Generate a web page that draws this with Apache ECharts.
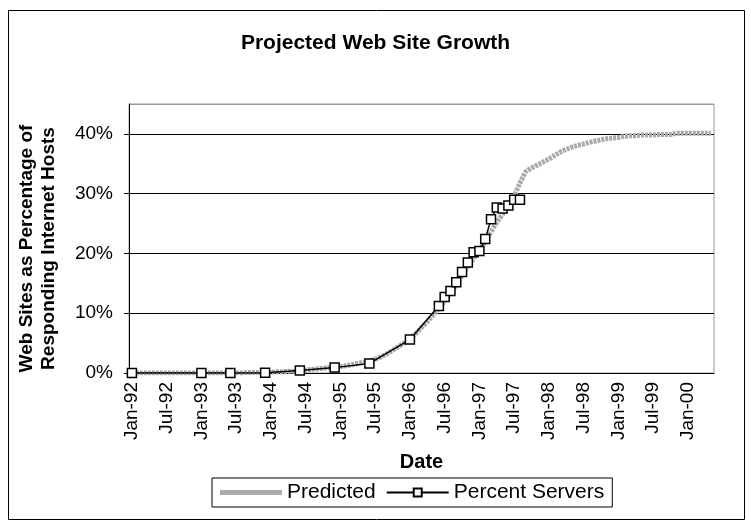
<!DOCTYPE html>
<html>
<head>
<meta charset="utf-8">
<script src="https://cdn.jsdelivr.net/npm/echarts@6/dist/echarts.min.js"></script>
<style>
html, body { margin: 0; padding: 0; background: #fff; }
#chart { width: 751px; height: 526px; }
</style>
</head>
<body>
<div id="chart"></div>
<script>
// month slots on the date axis, Jan-92 .. May-00
var monthNames = ['Jan','Feb','Mar','Apr','May','Jun','Jul','Aug','Sep','Oct','Nov','Dec'];
var years = ['92','93','94','95','96','97','98','99','00'];
var lastMonthOfLastYear = 5;

// predicted share (%), one value per month
var predicted = [
	0.0, 0.0, 0.0, 0.0, 0.0, 0.0, 0.0, 0.0, 0.0, 0.0, 0.0, 0.0,
	0.0, 0.0, 0.0, 0.0, 0.0, 0.0, 0.0, 0.0, 0.1, 0.1, 0.1, 0.1,
	0.1, 0.2, 0.2, 0.3, 0.3, 0.4, 0.5, 0.6, 0.7, 0.8, 0.9, 1.0,
	1.1, 1.2, 1.4, 1.6, 1.8, 2.0, 2.3, 2.7, 3.2, 3.8, 4.4, 5.0,
	5.7, 6.6, 7.6, 8.6, 9.7, 10.8, 12.0, 13.3, 14.8, 16.3, 17.8, 19.2,
	20.6, 22.0, 23.6, 25.2, 26.6, 28.0, 29.6, 31.8, 33.7, 34.3, 34.8, 35.3,
	35.8, 36.4, 37.0, 37.4, 37.8, 38.1, 38.3, 38.6, 38.8, 39.0, 39.2, 39.3,
	39.4, 39.6, 39.7, 39.7, 39.8, 39.8, 39.8, 39.9, 39.9, 39.9, 40.1, 40.1,
	40.1, 40.1, 40.1, 40.1, 40.1
];

// measured share of web servers (%)
var serverDates = ['Jan-92','Jan-93','Jun-93','Dec-93','Jun-94','Dec-94','Jun-95','Jan-96',
	'Jun-96','Jul-96','Aug-96','Sep-96','Oct-96','Nov-96','Dec-96',
	'Jan-97','Feb-97','Mar-97','Apr-97','May-97','Jun-97','Jul-97','Aug-97'];
var serverValues = [0.0, 0.0, 0.0, 0.05, 0.4, 0.9, 1.6, 5.6,
	11.2, 12.7, 13.7, 15.2, 16.9, 18.5, 20.2,
	20.4, 22.4, 25.7, 27.7, 27.5, 28.0, 29.0, 29.0];

var months = [];
for (var y = 0; y < years.length; y++) {
	var n = (y == years.length - 1) ? lastMonthOfLastYear : 12;
	for (var m = 0; m < n; m++) {
		months.push(monthNames[m] + '-' + years[y]);
	}
}

var serverData = serverDates.map(function (d, i) { return [d, serverValues[i]]; });

var font = 'Liberation Sans, Arial, sans-serif';
var grayLine = '#a9a9a9';

var chart = echarts.init(document.getElementById('chart'));
chart.setOption({
	animation: false,
	textStyle: { fontFamily: font, color: '#000' },
	title: {
		text: 'Projected Web Site Growth',
		left: 'center',
		top: 28,
		textStyle: { fontSize: 21, fontWeight: 'bold', color: '#000', fontFamily: font }
	},
	graphic: [{
		type: 'rect',
		shape: { x: 8.5, y: 10.5, width: 736, height: 509 },
		style: { fill: 'none', stroke: '#000', lineWidth: 1 },
		silent: true
	}],
	legend: {
		left: 212,
		top: 478,
		padding: [4, 8, 4, 8],
		borderColor: '#000',
		borderWidth: 1,
		borderRadius: 0,
		itemWidth: 62,
		itemHeight: 10,
		itemGap: 10,
		textStyle: { fontSize: 21, color: '#000', fontFamily: font },
		data: [
			{ name: 'Predicted', icon: 'path://M0,0 L62,0 L62,5 L0,5 Z', itemStyle: { color: grayLine } },
			{ name: 'Percent Servers' }
		]
	},
	grid: {
		left: 129,
		top: 104,
		right: 37,
		bottom: 153,
		show: true,
		borderColor: '#999',
		borderWidth: 1
	},
	xAxis: {
		type: 'category',
		data: months,
		boundaryGap: true,
		name: 'Date',
		nameLocation: 'middle',
		nameGap: 79,
		nameTextStyle: { fontSize: 20, fontWeight: 'bold', color: '#000', fontFamily: font },
		axisLine: { lineStyle: { color: '#000', width: 1 } },
		axisTick: { interval: 5, length: 5, lineStyle: { color: '#000' } },
		axisLabel: { interval: 5, rotate: 90, fontSize: 19, color: '#000', margin: 9, fontFamily: font },
		splitLine: { show: false }
	},
	yAxis: {
		type: 'value',
		min: 0,
		max: 45,
		interval: 10,
		name: 'Web Sites as Percentage of\nResponding Internet Hosts',
		nameLocation: 'middle',
		nameRotate: 90,
		nameGap: 69,
		nameTextStyle: { fontSize: 19, fontWeight: 'bold', color: '#000', lineHeight: 22, fontFamily: font, padding: [0, 20, 0, 0] },
		axisLine: { show: true, lineStyle: { color: '#000', width: 1 } },
		axisTick: { show: true, length: 5, lineStyle: { color: '#000' } },
		axisLabel: {
			fontSize: 19, color: '#000', margin: 16, showMaxLabel: false, fontFamily: font,
			formatter: function (v) { return v + '%'; }
		},
		splitLine: { show: true, lineStyle: { color: ['#000', '#000', '#000', '#000', '#000', '#999'], width: 1.2 } }
	},
	series: [
		{
			name: 'Predicted',
			type: 'line',
			data: predicted,
			symbol: 'none',
			z: 2,
			lineStyle: { color: grayLine, width: 5, type: [3, 1] },
			itemStyle: { color: grayLine }
		},
		{
			name: 'Percent Servers',
			type: 'line',
			data: serverData,
			symbol: 'rect',
			symbolSize: 9,
			showAllSymbol: true,
			z: 3,
			lineStyle: { color: '#000', width: 1.5 },
			itemStyle: { color: '#fff', borderColor: '#000', borderWidth: 1.5 }
		}
	]
});
</script>
</body>
</html>
